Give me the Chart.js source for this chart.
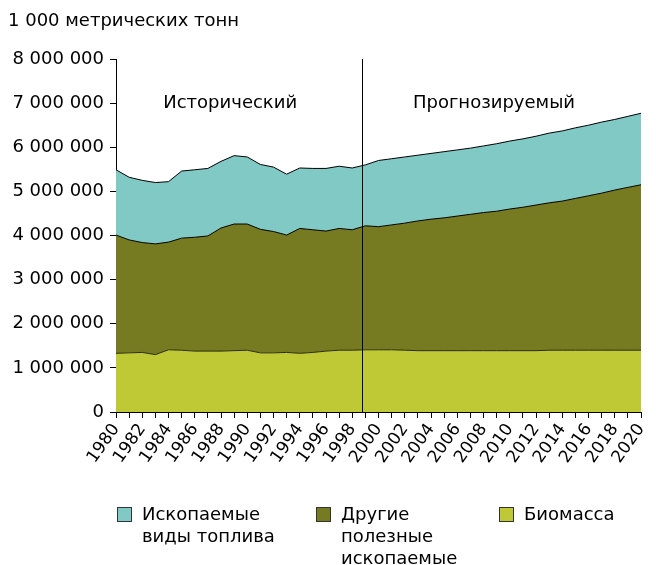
<!DOCTYPE html>
<html>
<head>
<meta charset="utf-8">
<script src="https://cdn.jsdelivr.net/npm/chart.js@4"></script>
<style>
    body { margin: 0; background: #fff; font-family: 'DejaVu Sans', sans-serif; }
    #wrap { position: relative; width: 656px; height: 565px; }
    #unit { position: absolute; left: 8px; top: 9px; font-size: 18px; color: #000; }
    .leg { position: absolute; top: 503px; font-size: 18px; line-height: 22px; color: #000; }
    .leg span { position: absolute; left: 0; top: 4px; width: 13px; height: 13px; border: 1px solid #333; }
    .leg div { margin-left: 25px; }
</style>
</head>
<body>
<div id="wrap">
    <canvas id="chart" width="656" height="565"></canvas>
    <div id="unit">1 000 метрических тонн</div>
    <div class="leg" style="left:117px"><span style="background:#80c9c5"></span><div>Ископаемые<br>виды топлива</div></div>
    <div class="leg" style="left:316px"><span style="background:#767a20"></span><div>Другие<br>полезные<br>ископаемые</div></div>
    <div class="leg" style="left:499px"><span style="background:#bfc935"></span><div>Биомасса</div></div>
</div>
<script>
// Years on the x axis
const years = [];
for (let y = 1980; y <= 2020; y++) years.push(y);

// 1 000 metric tonnes
const biomass = [
    1330000, 1340000, 1350000, 1300000, 1410000, 1400000, 1380000, 1380000, 1380000, 1390000,
    1400000, 1340000, 1340000, 1350000, 1330000, 1350000, 1380000, 1400000, 1400000, 1410000,
    1410000, 1410000, 1400000, 1390000, 1390000, 1390000, 1390000, 1390000, 1390000, 1390000,
    1390000, 1390000, 1390000, 1400000, 1400000, 1400000, 1400000, 1400000, 1400000, 1400000,
    1400000
];
const otherMinerals = [
    2680000, 2560000, 2490000, 2510000, 2440000, 2540000, 2580000, 2610000, 2790000, 2870000,
    2860000, 2800000, 2750000, 2660000, 2830000, 2780000, 2720000, 2760000, 2730000, 2810000,
    2790000, 2830000, 2880000, 2940000, 2980000, 3010000, 3050000, 3090000, 3130000, 3160000,
    3210000, 3250000, 3300000, 3340000, 3380000, 3440000, 3500000, 3560000, 3630000, 3690000,
    3750000
];
const fossilFuels = [
    1480000, 1420000, 1410000, 1390000, 1370000, 1520000, 1530000, 1530000, 1510000, 1550000,
    1520000, 1470000, 1460000, 1380000, 1370000, 1390000, 1420000, 1410000, 1400000, 1380000,
    1500000, 1500000, 1500000, 1490000, 1490000, 1500000, 1500000, 1500000, 1510000, 1530000,
    1540000, 1550000, 1560000, 1580000, 1590000, 1600000, 1600000, 1610000, 1600000, 1610000,
    1620000
];

const yTicks = [0, 1000000, 2000000, 3000000, 4000000, 5000000, 6000000, 7000000, 8000000];
const splitYear = 1998.75; // boundary between historical and forecast
const periodLabels = [
    { text: 'Исторический', x: 1988.7, y: 7000000 },
    { text: 'Прогнозируемый', x: 2008.8, y: 7000000 }
];

const FONT = "'DejaVu Sans', sans-serif";

function series(values) {
    return values.map((v, i) => ({ x: years[i], y: v }));
}

// vertical split line + period captions
const periodPlugin = {
    id: 'periods',
    afterDatasetsDraw(chart) {
        const ctx = chart.ctx;
        const xs = chart.scales.x, ys = chart.scales.y;
        const px = Math.round(xs.getPixelForValue(splitYear)) + 0.5;
        ctx.save();
        ctx.strokeStyle = '#000';
        ctx.lineWidth = 1;
        ctx.beginPath();
        ctx.moveTo(px, chart.chartArea.top);
        ctx.lineTo(px, chart.chartArea.bottom);
        ctx.stroke();
        ctx.fillStyle = '#000';
        ctx.font = '18px ' + FONT;
        ctx.textAlign = 'center';
        ctx.textBaseline = 'middle';
        periodLabels.forEach(l => {
            ctx.fillText(l.text, xs.getPixelForValue(l.x), ys.getPixelForValue(l.y));
        });
        ctx.restore();
    }
};

function fmt(v) {
    return String(v).replace(/\B(?=(\d{3})+(?!\d))/g, ' ');
}

new Chart(document.getElementById('chart'), {
    type: 'line',
    data: {
        datasets: [{
            label: 'Биомасса',
            data: series(biomass),
            backgroundColor: '#bfc935',
            borderColor: '#2a2a10',
            fill: 'origin'
        }, {
            label: 'Другие полезные ископаемые',
            data: series(otherMinerals),
            backgroundColor: '#767a20',
            borderColor: '#000',
            fill: '-1'
        }, {
            label: 'Ископаемые виды топлива',
            data: series(fossilFuels),
            backgroundColor: '#80c9c5',
            borderColor: '#000',
            fill: '-1'
        }]
    },
    options: {
        responsive: false,
        animation: false,
        events: [],
        elements: {
            point: { radius: 0 },
            line: { borderWidth: 1, tension: 0 }
        },
        layout: { padding: { top: 59, right: 15, bottom: 0, left: 0 } },
        plugins: {
            legend: { display: false },
            tooltip: { enabled: false }
        },
        scales: {
            x: {
                type: 'linear',
                min: 1980,
                max: 2020,
                afterFit: scale => {
                    scale.height = 153;
                    scale.paddingLeft = 0;
                    scale.paddingRight = 0;
                },
                afterBuildTicks: scale => { scale.ticks = years.map(y => ({ value: y })); },
                ticks: {
                    autoSkip: false,
                    minRotation: 55,
                    maxRotation: 55,
                    padding: 2,
                    color: '#000',
                    font: { family: FONT, size: 17 },
                    callback: v => (v % 2 === 0 ? String(v) : '')
                },
                grid: { drawOnChartArea: false, color: '#000', tickLength: 6 },
                border: { color: '#000', width: 1 }
            },
            y: {
                stacked: true,
                min: 0,
                max: 8000000,
                afterFit: scale => { scale.width = 116; },
                afterBuildTicks: scale => { scale.ticks = yTicks.map(v => ({ value: v })); },
                ticks: {
                    padding: 6,
                    color: '#000',
                    font: { family: FONT, size: 18 },
                    callback: v => fmt(v)
                },
                grid: { drawOnChartArea: false, color: '#000', tickLength: 6 },
                border: { color: '#000', width: 1 }
            }
        }
    },
    plugins: [periodPlugin]
});
</script>
</body>
</html>
